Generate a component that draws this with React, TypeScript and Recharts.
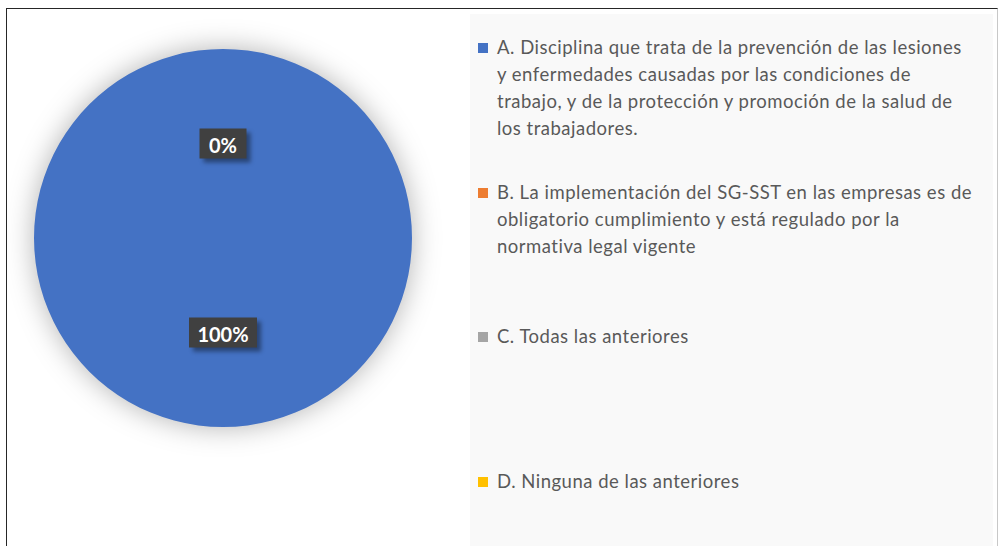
import React from "react";
import { PieChart, Pie, Cell, Legend } from "recharts";

const categories = [
  "A. Disciplina que trata de la prevención de las lesiones\ny enfermedades causadas por las condiciones de\ntrabajo, y de la protección y promoción de la salud de\nlos trabajadores.",
  "B. La implementación del SG-SST en las empresas es de\nobligatorio cumplimiento y está regulado por la\nnormativa legal vigente",
  "C. Todas las anteriores",
  "D. Ninguna de las anteriores",
];
const values = [100, 0, 0, 0];
const colors = ["#4472C4", "#ED7D31", "#A5A5A5", "#FFC000"];

const data = categories.map((name, i) => ({ name, value: values[i] }));

const RADIAN = Math.PI / 180;
const FONT = "Lato, 'Open Sans', sans-serif";

function renderLabel(props: any) {
  const { cx, cy, midAngle, outerRadius, percent, index } = props;
  // the zero slices all sit on top of each other, draw one of them
  if (index > 1) return null;
  const r = outerRadius * 0.5;
  const x = cx + r * Math.cos(-midAngle * RADIAN);
  const y = cy + r * Math.sin(-midAngle * RADIAN);
  const text = `${Math.round(percent * 100)}%`;
  const w = text.length * 10.5 + 26;
  const h = 30;
  return (
    <g key={`lbl-${index}`}>
      <rect
        x={x - w / 2 + 4}
        y={y - h / 2 + 4}
        width={w}
        height={h}
        fill="rgba(0,0,0,0.4)"
        style={{ filter: "blur(2px)" }}
      />
      <rect x={x - w / 2} y={y - h / 2} width={w} height={h} fill="#404040" />
      <text
        x={x}
        y={y + 1}
        textAnchor="middle"
        dominantBaseline="central"
        fill="#ffffff"
        fontFamily={FONT}
        fontWeight="bold"
        fontSize={20}
      >
        {text}
      </text>
    </g>
  );
}

function LegendBox(props: any) {
  const { payload } = props;
  return (
    <div
      style={{
        background: "#f9f9f9",
        width: 523,
        height: 540,
        paddingTop: 20,
        boxSizing: "border-box",
        fontFamily: FONT,
        fontSize: 18.5,
        letterSpacing: 0.5,
        color: "#595959",
      }}
    >
      {(payload || []).map((entry: any, i: number) => (
        <div key={i} style={{ display: "flex", height: 144.7, alignItems: "flex-start" }}>
          <span
            style={{
              width: 10,
              height: 10,
              background: colors[i],
              marginLeft: 8,
              marginRight: 9,
              marginTop: 9,
              flexShrink: 0,
            }}
          />
          <span style={{ whiteSpace: "pre-line", lineHeight: "27px" }}>{entry.value}</span>
        </div>
      ))}
    </div>
  );
}

export default function App() {
  return (
    <div style={{ position: "absolute", left: 0, top: 0, width: 998, height: 546, overflow: "hidden", background: "#fff" }}>
      <div
        style={{
          position: "absolute",
          left: 6,
          top: 8,
          width: 990,
          height: 560,
          borderTop: "1.5px solid #262626",
          borderLeft: "1.5px solid #262626",
          borderRight: "1px solid #c8c8c8",
        }}
      />
      <div style={{ position: "absolute", left: 0, top: 0 }}>
        <PieChart width={998} height={546} margin={{ top: 0, right: 0, bottom: 0, left: 0 }}>
          <Pie
            data={data}
            dataKey="value"
            nameKey="name"
            cx={223}
            cy={238}
            outerRadius={189}
            startAngle={90}
            endAngle={-270}
            stroke="none"
            label={renderLabel}
            labelLine={false}
            isAnimationActive={false}
          >
            {data.map((d, i) => (
              <Cell
                key={d.name}
                fill={colors[i]}
                style={{ filter: "drop-shadow(0px 0px 14px rgba(0,0,0,0.3))" }}
              />
            ))}
          </Pie>
          <Legend
            layout="vertical"
            align="right"
            verticalAlign="top"
            content={LegendBox}
            wrapperStyle={{ left: 470, top: 14, width: 523 }}
          />
        </PieChart>
      </div>
    </div>
  );
}
